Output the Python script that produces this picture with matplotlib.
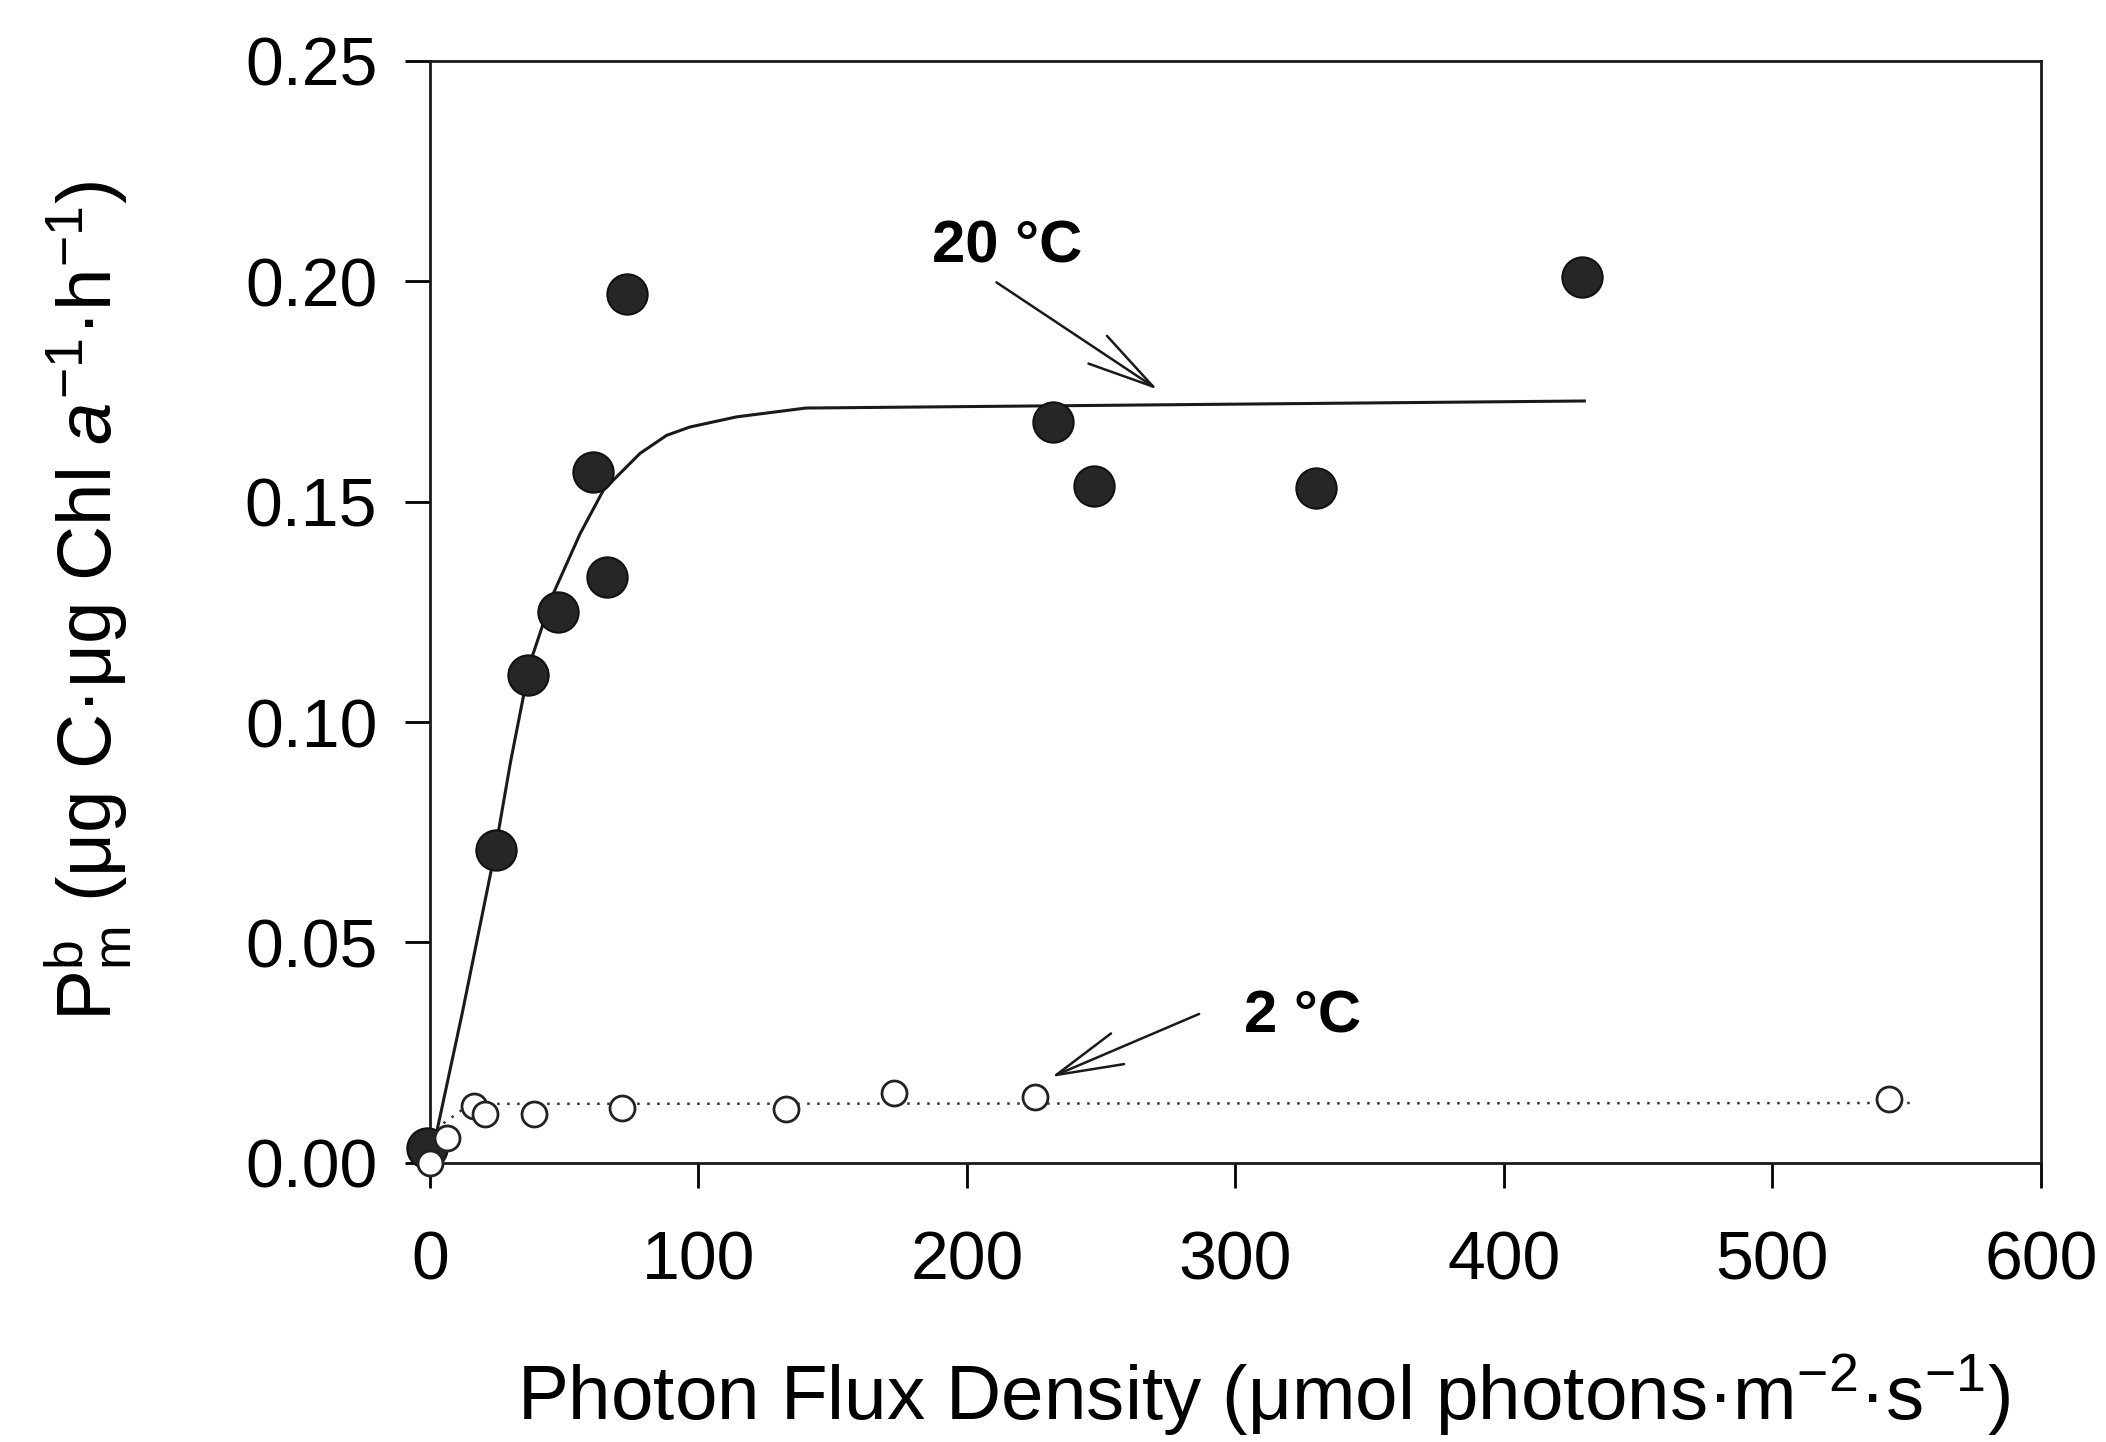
import matplotlib
matplotlib.use('Agg')
import matplotlib.pyplot as plt

plt.rcParams['font.family'] = ['Liberation Sans', 'DejaVu Sans']
plt.rcParams['mathtext.fontset'] = 'custom'
plt.rcParams['mathtext.rm'] = 'Liberation Sans'
plt.rcParams['mathtext.it'] = 'Liberation Sans:italic'
plt.rcParams['mathtext.bf'] = 'Liberation Sans:bold'

# 20 °C measurements (filled circles)
warm_x = [-1, 24.5, 36.6, 47.8, 60.8, 65.8, 73.5, 232, 247.5, 330, 429]
warm_y = [0.0033, 0.071, 0.1106, 0.125, 0.1567, 0.1329, 0.197, 0.168, 0.1535, 0.153, 0.201]
# 2 °C measurements (open circles)
cold_x = [0, 6.3, 16.2, 20.6, 38.6, 71.5, 132.5, 173, 225.5, 543.5]
cold_y = [0.0, 0.0056, 0.013, 0.011, 0.011, 0.0125, 0.0122, 0.0158, 0.0149, 0.0146]
# fitted curves
fit_warm_x = [0, 12, 24, 30, 37.2, 45.9, 55.9, 64.5, 69.5, 78.2, 88.1, 96.8, 114.2, 140, 430]
fit_warm_y = [0, 0.034, 0.070, 0.091, 0.1133, 0.1291, 0.1427, 0.1525, 0.1556, 0.1609,
              0.1650, 0.1669, 0.1692, 0.1712, 0.1728]
fit_cold_x = [5, 15, 552]
fit_cold_y = [0.009, 0.0134, 0.0136]

xticks = [0, 100, 200, 300, 400, 500, 600]
yticks = [0.00, 0.05, 0.10, 0.15, 0.20, 0.25]

fig = plt.figure(figsize=(21.06, 14.42), dpi=100)
ax = fig.add_axes([0.2042, 0.1935, 0.969 - 0.2042, 0.958 - 0.1935])

ax.plot(fit_warm_x, fit_warm_y, color='#1a1a1a', lw=2.2, zorder=2)
ax.plot(fit_cold_x, fit_cold_y, color='#333333', lw=1.8, ls=(0, (1, 3)), zorder=2)
ax.plot(warm_x, warm_y, 'o', ms=29, mfc='#262626', mec='#111111', mew=1.5,
        clip_on=False, zorder=3)
ax.plot(cold_x, cold_y, 'o', ms=18, mfc='white', mec='#222222', mew=2,
        clip_on=False, zorder=4)

arrow_kw = dict(arrowstyle='->,head_length=2.4,head_width=0.6',
                color='#1a1a1a', lw=1.8, shrinkA=0, shrinkB=0, mutation_scale=20)
ax.annotate('', xy=(271, 0.1754), xytext=(211, 0.1997), arrowprops=arrow_kw)
ax.annotate('', xy=(231.5, 0.0195), xytext=(286.5, 0.0338), arrowprops=arrow_kw)
ax.text(215, 0.2077, '20 °C', fontsize=43, fontweight='bold', ha='center', va='center')
ax.text(325, 0.0332, '2 °C', fontsize=43, fontweight='bold', ha='center', va='center')

ax.set_xlim(0, 600)
ax.set_ylim(0, 0.25)
ax.set_xticks(xticks)
ax.set_xticklabels([str(v) for v in xticks])
ax.set_yticks(yticks)
ax.set_yticklabels(['%.2f' % v for v in yticks])
ax.tick_params(axis='both', direction='out', length=18, width=2, labelsize=49)
ax.tick_params(axis='x', pad=30)
ax.tick_params(axis='y', pad=20)
for s in ax.spines.values():
    s.set_linewidth(2)
    s.set_color('#1a1a1a')

ax.set_xlabel(r'Photon Flux Density (μmol photons·m$^{\mathregular{-2}}$·s$^{\mathregular{-1}}$)',
              fontsize=55)
ax.xaxis.set_label_coords(0.5177, -0.172)
ax.set_ylabel(r'P$^{\mathregular{b}}_{\mathregular{m}}$ (μg C·μg Chl $a^{\mathregular{-1}}$·h$^{\mathregular{-1}}$)',
              fontsize=55)
ax.yaxis.set_label_coords(-0.184, 0.51)

fig.savefig('out.png', dpi=100)
